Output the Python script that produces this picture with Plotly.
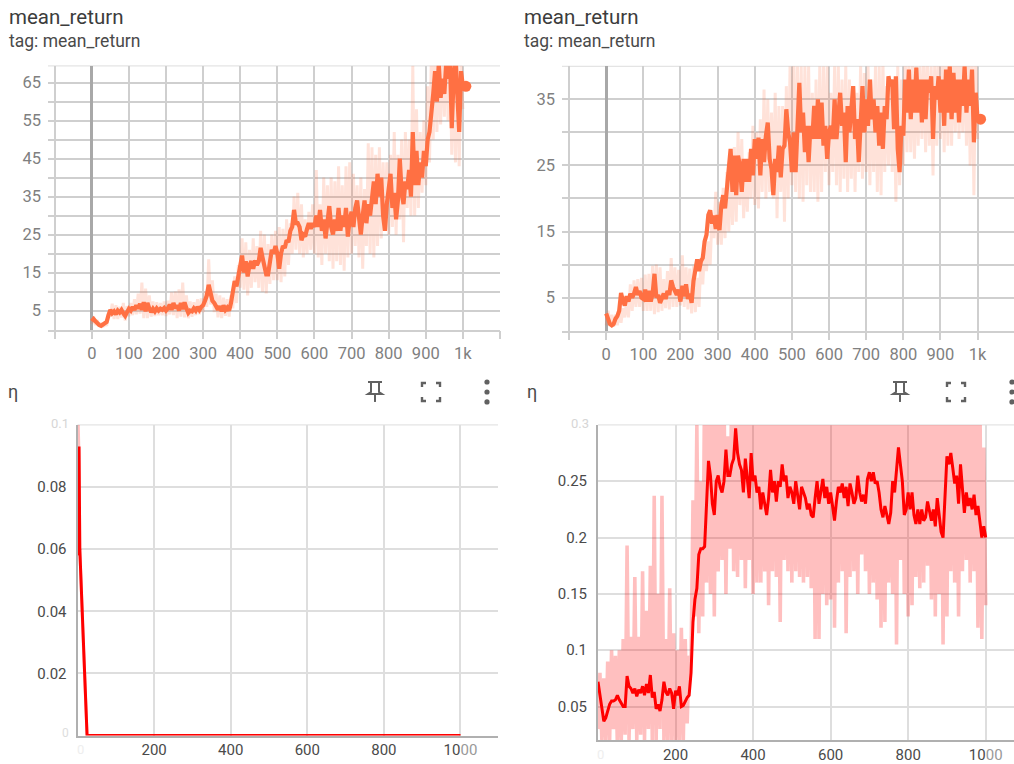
import plotly.graph_objects as go

W, H = 1014, 764
STEP = 5

# ---------- panel 1: mean_return (left) ----------
p1_smooth = [
 2.2,2.8,2.2,1.5,1.2,1.0,1.4,1.5,2.0,3.8, 5.2,4.3,4.8,4.0,5.0,4.5,5.2,4.3,3.6,4.6,
 5.5,5.0,6.0,5.2,6.4,5.6,6.8,5.2,7.2,4.8, 7.0,5.6,4.6,5.5,4.8,5.6,5.0,5.5,5.2,5.7,
 5.0,5.6,6.6,5.2,7.0,5.6,6.4,5.0,7.0,5.4, 7.2,5.6,4.4,5.0,4.8,5.6,5.0,6.0,5.2,6.0,
 6.4,7.6,9.0,11.8,9.6,7.6,7.0,5.8,5.2,6.2, 4.8,6.4,5.2,5.8,5.0,7.0,10,12.8,11.4,14,
 15.8,19.5,15,18,14,17,18,16,18.2,17, 18,21.5,19,16,14.5,14.5,18,21,20,22,
 20,16,20,22,21.5,23.5,23,26,27,31.5, 28,28,27,23.5,25,24.5,26.5,28,26.5,28,
 27,30,27,31.5,26,29,24,28,32.5,27, 25,29,26,32,26,30,27,32,24.5,29,
 31,27,32,34,30,25,30,34,28,33, 30,35,39,33,41,35,40,30,26,33,
 37,41,32,36,29,34,45,36,33,39, 37,42,35,52,38,47,38,44,40,47,
 43,50,52,56,62,68,60,70,61,66, 62,70,66,72,53,66,72,62,52,68, 64]
p1_raw = [
 1.5,3.4,1.2,2.5,0.8,1.8,0.7,1.7,1.0,4.5, 3.4,6.8,2.8,6.4,2.8,6.0,3.2,7.0,2.4,6.2,
 3.5,7.0,3.8,8.0,4.0,9.5,4.2,12.4,3.0,10.8, 3.0,9.0,3.4,7.4,3.6,7.2,3.8,7.0,3.8,7.4,
 3.6,7.6,4.0,9.8,3.8,10.0,3.0,10.6,3.4,12.4, 3.2,9.0,3.0,7.4,3.4,7.2,3.8,8.0,4.0,8.2,
 4.6,10.0,6.0,18.5,6.6,13.0,4.6,9.5,3.2,9.0, 3.0,8.4,3.6,8.0,3.4,9.0,5.6,14.0,7.0,17.0,
 11,24,10.5,23,9,21,11,24,12.5,22, 11,26,10,25,9.5,22.5,12,25,13,26,
 13,27,12.5,26.5,14,29,17,28,20,35, 21,36,20,33,19,29,20,31,21,33,
 20,42,19,33,17,40,20,38,18,40, 16,39,18,43,17,38,15.5,43,19,44,
 20,41,22,38,19,40,16,37,22,49, 20,48,19,46,22,48,24,44,28,44,
 25,46,27,52,25,46,29,50,23,52, 32,50,30,69.5,30,58,32,52,36,55,
 38,64,44,72,50,75,52,72,54,75, 56,76,55,74,46,72,44,72,43,70, 58]

# ---------- panel 2: mean_return (right) ----------
p2_smooth = [
 2.6,1.6,1.0,0.8,1.0,1.8,2.2,3.0,5.7,4.5, 3.8,5.2,4.4,5.6,5.0,5.6,6.6,5.4,6.0,5.0,
 4.8,6.2,4.4,6.0,4.4,5.6,8.6,5.0,5.4,4.2, 5.0,5.6,4.8,6.0,5.4,7.6,6.6,6.0,5.4,6.2,
 4.4,6.8,5.2,7.0,4.8,5.6,4.2,7.5,9.5,10.8, 9.0,10.5,11.0,13.5,14.5,17.5,18.2,16.2,17.4,15.4,
 17.5,15.2,19.0,20.5,18.5,22,24.5,27.5,21,26.5, 20.5,26.5,25,21,26,22.5,26,22.5,27.5,23.5,
 29,26,29.2,23.5,29,25.5,29.5,31.5,26,24.5, 20.5,26,24,28,23.2,27.5,28,33.5,30,28.5,
 24,30,24,32,37.5,30,33,27,31,25.5, 31,29,34,29,35,29,34.5,28,31,26,
 30,31,29,35,29,32.5,36,31,33,25.5, 34,30,33,37,29,32,25.5,33,37,30,
 35,31,38,32,35,30,34,28,33,27.5, 34,32,38.5,37,38,30.5,38.5,27.5,24,31,
 29.5,38,33,39.5,32,38,33,39.8,33,38, 31.5,38,32,38,36,38.5,29,37,35,38.5,
 33,38,31,39.5,33,40,32,39,33,38, 31.5,38,34,40,33,38,34,39.5,28.5,36, 32]
p2_raw = [
 0.8,3,0.7,2.4,0.6,2.4,0.8,3,1.2,3.4, 2,4.5,2,7,3,7.6,3.6,7.8,3.6,8,
 3,8.5,3,8.6,3,9.8,2.5,10,2.8,9.6, 3,7.8,3.4,9,3.2,11,3.6,9.6,3.6,9.2,
 3.8,11.4,3.6,9.6,3.2,9.4,2.6,9.8,2.8,8, 3.6,11,7,12.5,9,13.5,10,17.5,14,21,
 13,19.5,13,21.6,14,24,15,25,16,27.8, 16.5,30,19,29,17,25,18,27,20,31,
 19,30,18.5,32,21,36.5,20,35,21,33, 20,36,17,34,21,34,16.5,37,20,40,
 22,42,21,40,20,40,19.5,40,22,40, 21,36,21,38,19.5,40,21,40,24,40,
 22,36,24,40,22,40,21,38,23,40, 21,38,23,37,21,36,24,40,23,39,
 24,40,22,38,24,40,21,40,20.5,41, 24,37,25,38,24,37,19.5,40,22,38,
 25,42,27,41,27,41,26,40,28,40, 29,42,27,41,28,40,23.5,42,28,41,
 29,42,27,44,28,43,28,42,30,44, 29,42,30,43,28,42,25,44,20.5,42, 29]

# ---------- panel 3: eta (left), irregular steps ----------
p3_steps = [0, 4, 6, 12, 18, 22, 25, 30, 100, 1000]
p3_smooth = [.058, .093, .06, .04, .02, .006, 0, 0, 0, 0]
p3_raw_steps = [0, 2, 4, 6, 10, 15, 25, 1000]
p3_raw = [.11, .10, .09, .06, .045, .03, 0, 0]

# ---------- panel 4: eta (right) ----------
p4_smooth = [
 .072,.06,.045,.037,.04,.047,.052,.055,.055,.056, .06,.056,.053,.05,.05,.077,.068,.066,.062,.066,
 .059,.065,.062,.068,.060,.070,.062,.078,.058,.063, .048,.052,.046,.056,.072,.063,.060,.066,.062,.048,
 .064,.060,.068,.050,.051,.055,.058,.060,.080,.125, .145,.155,.185,.19,.19,.192,.235,.268,.255,.23,
 .22,.25,.255,.245,.24,.25,.278,.255,.255,.265, .27,.297,.275,.265,.26,.24,.27,.25,.235,.275,
 .25,.255,.24,.245,.225,.24,.23,.22,.235,.26, .24,.25,.232,.25,.245,.265,.25,.255,.235,.245,
 .24,.23,.25,.235,.225,.245,.24,.235,.225,.23, .22,.218,.235,.25,.23,.24,.252,.235,.245,.23,
 .24,.228,.215,.232,.245,.24,.248,.235,.245,.228, .248,.24,.23,.235,.255,.24,.232,.238,.23,.252,
 .258,.25,.258,.248,.25,.24,.225,.218,.228,.22, .212,.222,.25,.24,.262,.28,.265,.25,.22,.225,
 .24,.225,.24,.22,.212,.225,.212,.225,.215,.218, .232,.222,.215,.225,.21,.235,.22,.205,.2,.24,
 .272,.265,.275,.262,.248,.255,.23,.265,.245,.222, .24,.228,.235,.225,.238,.22,.228,.215,.2,.21, .2]
p4_raw = [
 .03,.08,.02,.075,.02,.09,.02,.10,.03,.095, .015,.10,.02,.11,.025,.193,.02,.112,.03,.165,
 .02,.112,.025,.17,.02,.135,.03,.175,.02,.237, .02,.15,.03,.237,.02,.11,.015,.155,.02,.115,
 .015,.10,.02,.12,.02,.11,.035,.095,.09,.233, .13,.30,.115,.25,.13,.34,.16,.33,.15,.34,
 .13,.34,.17,.31,.18,.33,.15,.29,.19,.34, .17,.32,.165,.34,.18,.33,.155,.30,.18,.34,
 .15,.32,.16,.34,.16,.31,.17,.34,.14,.33, .17,.34,.165,.30,.125,.34,.18,.33,.17,.34,
 .16,.34,.17,.33,.165,.31,.16,.34,.165,.33, .155,.34,.11,.31,.11,.34,.15,.33,.14,.30,
 .145,.34,.12,.32,.16,.34,.17,.34,.115,.31, .165,.34,.17,.33,.15,.31,.185,.34,.17,.34,
 .15,.33,.16,.31,.145,.34,.12,.33,.125,.34, .16,.31,.15,.33,.105,.34,.18,.34,.15,.31,
 .13,.34,.14,.33,.165,.32,.155,.34,.16,.34, .175,.31,.145,.34,.13,.34,.15,.33,.105,.34,
 .13,.34,.17,.33,.16,.31,.13,.34,.17,.34, .18,.31,.16,.33,.17,.34,.12,.33,.11,.28, .14]

# ---------- tick labels ----------
top_x_vals = [-100, 0, 100, 200, 300, 400, 500, 600, 700, 800, 900, 1000, 1100]
top_x_text = ["", "0", "100", "200", "300", "400", "500", "600", "700", "800", "900", "1k", ""]
p1_y_vals = [0, 5, 10, 15, 20, 25, 30, 35, 40, 45, 50, 55, 60, 65]
p1_y_text = ["", "5", "", "15", "", "25", "", "35", "", "45", "", "55", "", "65"]
p2_y_vals = [0, 5, 10, 15, 20, 25, 30, 35]
p2_y_text = ["", "5", "", "15", "", "25", "", "35"]
bot_x_vals = [200, 400, 600, 800, 1000]
bot_x_text = ["200", "400", "600", "800", "10<span style='color:#999'>00</span>"]
p3_y_vals = [0.02, 0.04, 0.06, 0.08]
p3_y_text = ["0.02", "0.04", "0.06", "0.08"]
p4_y_vals = [0.05, 0.1, 0.15, 0.2, 0.25]
p4_y_text = ["0.05", "0.1", "0.15", "0.2", "0.25"]

ORANGE, ORANGE_L = "#ff7043", "rgba(255,112,67,0.2)"
RED, RED_L = "#ff0000", "rgba(255,0,0,0.25)"
GRID_T, GRID_B = "#cfcfcf", "#dedede"
FONT = "Roboto"

def fx(p): return p / W
def fy(p): return 1 - p / H
def steps(v): return [i * STEP for i in range(len(v))]

fig = go.Figure()

def panel(n, L, R, T, B, xr, yr, xv, xt, yv, yt, top):
    s = "" if n == 1 else str(n)
    grid, col, size = (GRID_T, "#808080", 16.5) if top else (GRID_B, "#4a4a4a", 15)
    fig.update_layout(**{
        "xaxis" + s: dict(domain=[fx(L), fx(R)], range=xr, anchor="y" + s,
            tickmode="array", tickvals=xv, ticktext=xt, showgrid=True, gridcolor=grid, gridwidth=1.6,
            zeroline=top, zerolinecolor="#a8a8a8", zerolinewidth=2.6,
            ticks="outside" if top else "", ticklen=8, tickcolor=grid, tickwidth=1.6,
            showline=True, linecolor=grid if top else "#b0b0b0", linewidth=1.6,
            tickfont=dict(family=FONT, size=size, color=col), tickangle=0),
        "yaxis" + s: dict(domain=[fy(B), fy(T)], range=yr, anchor="x" + s,
            tickmode="array", tickvals=yv, ticktext=yt, showgrid=True, gridcolor=grid, gridwidth=1.6,
            zeroline=False, ticks="", ticklabelstandoff=6,
            showline=not top, linecolor="#b0b0b0", linewidth=2,
            tickfont=dict(family=FONT, size=size, color=col)),
    })
    fig.add_shape(type="line", xref=f"x{s} domain", yref=f"y{s} domain", x0=0, x1=1, y0=1, y1=1,
                  line=dict(color="#e4e4e4", width=1.4), layer="below")

def curves(n, xr, raw, xs, smooth, light, strong, width, raw_width, marker):
    s = "" if n == 1 else str(n)
    fig.add_trace(go.Scatter(x=xr, y=raw, mode="lines", xaxis="x" + s, yaxis="y" + s,
                             line=dict(color=light, width=raw_width), hoverinfo="skip"))
    fig.add_trace(go.Scatter(x=xs, y=smooth, mode="lines", xaxis="x" + s, yaxis="y" + s,
                             line=dict(color=strong, width=width), hoverinfo="skip"))
    if marker:
        fig.add_trace(go.Scatter(x=[xs[-1] + 8], y=[smooth[-1]], mode="markers", xaxis="x" + s, yaxis="y" + s,
                                 marker=dict(color=strong, size=11), hoverinfo="skip"))

panel(1, 48, 500, 66, 330.5, [-118, 1100], [0, 69.4], top_x_vals, top_x_text, p1_y_vals, p1_y_text, True)
panel(2, 562, 1014, 66.5, 331.5, [-119, 1098], [0, 40], top_x_vals, top_x_text, p2_y_vals, p2_y_text, True)
panel(3, 77.5, 498, 426, 737.5, [0, 1098], [0, 0.1], bot_x_vals, bot_x_text, p3_y_vals, p3_y_text, False)
panel(4, 598, 1014, 426, 742.3, [0, 1073], [0.02, 0.3], bot_x_vals, bot_x_text, p4_y_vals, p4_y_text, False)

curves(1, steps(p1_raw), p1_raw, steps(p1_smooth), p1_smooth, ORANGE_L, ORANGE, 4.2, 3.0, True)
curves(2, steps(p2_raw), p2_raw, steps(p2_smooth), p2_smooth, ORANGE_L, ORANGE, 4.2, 3.0, True)
curves(3, p3_raw_steps, p3_raw, p3_steps, p3_smooth, RED_L, RED, 3.0, 3.0, False)
curves(4, steps(p4_raw), p4_raw, steps(p4_smooth), p4_smooth, RED_L, RED, 3.0, 3.6, False)

def label(x, y, text, size, color, anchor="left"):
    fig.add_annotation(xref="paper", yref="paper", x=fx(x), y=fy(y), text=text, showarrow=False,
                       xanchor=anchor, yanchor="middle", font=dict(family=FONT, size=size, color=color),
                       borderpad=0, borderwidth=0)

for x in (9, 524):
    label(x, 17, "mean_return", 20.5, "#3c3c3c")
    label(x, 41, "tag: mean_return", 17.5, "#4a4a4a")
for x in (8, 527):
    label(x, 393, "η", 18, "#4a4a4a")

# faded labels clipped by the chart edges in the reference
label(69, 425, "0.1", 13, "#d6d6d6", "right")
label(69, 735, "0", 12, "#dddddd", "right")
label(80, 751, "0", 13, "#eeeeee", "center")
label(589, 425, "0.3", 13, "#d6d6d6", "right")
label(600, 756, "0", 13, "#eeeeee", "center")

# toolbar icons
def path(points, closed=False):
    d = " ".join(("M" if i == 0 else "L") + f" {fx(x):.5f} {fy(y):.5f}" for i, (x, y) in enumerate(points))
    return d + (" Z" if closed else "")

def stroke(points, width=2, color="#616161"):
    fig.add_shape(type="path", xref="paper", yref="paper", path=path(points), line=dict(color=color, width=width))

def icons(pin, full, dots):
    # pin
    stroke([(pin - 7, 383), (pin + 7, 383)])
    stroke([(pin - 4, 383), (pin - 4, 393), (pin - 7, 395), (pin + 7, 395), (pin + 4, 393), (pin + 4, 383)])
    stroke([(pin, 395), (pin, 403)])
    # fullscreen corners
    r = 9
    cy = 393
    for sx, sy in ((-1, -1), (1, -1), (-1, 1), (1, 1)):
        stroke([(full + sx * (r - 4), cy + sy * r), (full + sx * r, cy + sy * r), (full + sx * r, cy + sy * (r - 4))], 2.4)
    # more
    for dy in (-10, 0, 10):
        fig.add_shape(type="circle", xref="paper", yref="paper",
                      x0=fx(dots - 2.6), x1=fx(dots + 2.6), y0=fy(cy + dy + 2.6), y1=fy(cy + dy - 2.6),
                      fillcolor="#616161", line=dict(width=0))

icons(375, 431, 487)
icons(900, 956, 1012)

fig.update_layout(width=W, height=H, margin=dict(l=0, r=0, t=0, b=0), showlegend=False,
                  paper_bgcolor="white", plot_bgcolor="white", autosize=False)

fig.write_html("out.html", config=dict(displayModeBar=False, responsive=False),
               post_script="document.body.style.margin='0';document.documentElement.style.overflow='hidden';")
